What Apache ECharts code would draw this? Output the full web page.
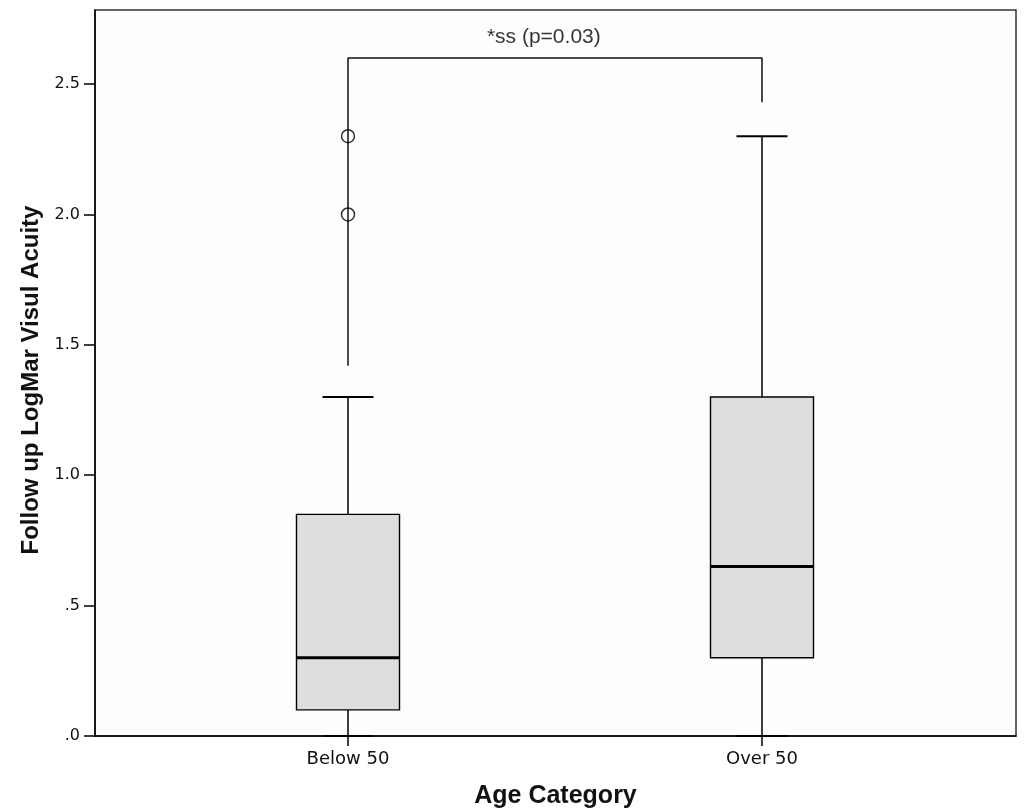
<!DOCTYPE html>
<html>
<head>
<meta charset="utf-8">
<script src="https://cdn.jsdelivr.net/npm/echarts@6/dist/echarts.min.js"></script>
<style>
html,body{margin:0;padding:0;background:#fff;}
#chart{width:1034px;height:811px;}
</style>
</head>
<body>
<div id="chart"></div>
<script>
// ---- data ----
const categories = ['Below 50', 'Over 50'];
const whiskerLow = [0, 0];
const q1 = [0.1, 0.3];
const median = [0.3, 0.65];
const q3 = [0.85, 1.3];
const whiskerHigh = [1.3, 2.3];
const outlierCategory = [0, 0];
const outlierValue = [2.3, 2.0];
const yTicks = [0, 0.5, 1.0, 1.5, 2.0, 2.5];
const yTickLabels = ['.0', '.5', '1.0', '1.5', '2.0', '2.5'];
// significance bracket: left foot, top, right foot (values on y axis)
const bracketLeftFoot = 1.42;
const bracketTop = 2.6;
const bracketRightFoot = 2.43;
const annotationText = '*ss (p=0.03)';
const annotationPos = [1.473, 2.68];

// ---- build ----
const boxData = categories.map((c, i) => [i + 1, whiskerLow[i], q1[i], median[i], q3[i], whiskerHigh[i]]);
const outlierData = outlierCategory.map((c, i) => [c + 1, outlierValue[i]]);
const bracketData = [[1, bracketLeftFoot], [1, bracketTop], [2, bracketTop], [2, bracketRightFoot]];

const BOX_HALF = 51.5;
const CAP_HALF = 25.5;

function renderBox(params, api) {
  const x = api.value(0);
  const lo = api.coord([x, api.value(1)]);
  const b1 = api.coord([x, api.value(2)]);
  const md = api.coord([x, api.value(3)]);
  const b3 = api.coord([x, api.value(4)]);
  const hi = api.coord([x, api.value(5)]);
  const cx = lo[0];
  const line = (x1, y1, x2, y2, w) => ({
    type: 'line',
    shape: {x1, y1, x2, y2},
    style: {stroke: '#000', lineWidth: w || 1.5}
  });
  return {
    type: 'group',
    children: [
      line(cx, b1[1], cx, lo[1]),
      line(cx, b3[1], cx, hi[1]),
      line(cx - CAP_HALF, hi[1], cx + CAP_HALF, hi[1], 2),
      line(cx - CAP_HALF, lo[1], cx + CAP_HALF, lo[1], 2),
      {
        type: 'rect',
        shape: {x: cx - BOX_HALF, y: b3[1], width: BOX_HALF * 2, height: b1[1] - b3[1]},
        style: {fill: '#dedede', stroke: '#000', lineWidth: 1.4}
      },
      line(cx - BOX_HALF, md[1], cx + BOX_HALF, md[1], 3)
    ]
  };
}

const chart = echarts.init(document.getElementById('chart'), null, {renderer: 'canvas'});
chart.setOption({
  animation: false,
  backgroundColor: '#ffffff',
  grid: {
    left: 95, right: 18, top: 10, bottom: 75,
    outerBoundsMode: 'none', containLabel: false,
    show: true, borderColor: '#333', borderWidth: 1.5, backgroundColor: '#fdfdfd'
  },
  xAxis: {
    type: 'value',
    min: 0.3889, max: 2.6135,
    splitLine: {show: false},
    axisLine: {show: true, onZero: false, lineStyle: {color: '#000', width: 1.5}},
    axisTick: {show: true, length: 10, customValues: [1, 2], lineStyle: {color: '#000', width: 1.5}},
    axisLabel: {
      customValues: [1, 2], margin: 14,
      formatter: v => categories[Math.round(v) - 1] || '',
      fontFamily: 'DejaVu Sans', fontSize: 18, color: '#111'
    },
    name: 'Age Category', nameLocation: 'middle', nameGap: 48,
    nameTextStyle: {fontFamily: 'Liberation Sans', fontWeight: 'bold', fontSize: 25, color: '#111'}
  },
  yAxis: {
    type: 'value',
    min: 0, max: 2.784,
    splitLine: {show: false},
    axisLine: {show: true, onZero: false, lineStyle: {color: '#000', width: 1.5}},
    axisTick: {show: true, length: 11, customValues: yTicks, lineStyle: {color: '#000', width: 1.5}},
    axisLabel: {
      customValues: yTicks, margin: 15,
      formatter: v => { const i = yTicks.findIndex(t => Math.abs(t - v) < 1e-6); return i >= 0 ? yTickLabels[i] : ''; },
      fontFamily: 'DejaVu Sans', fontSize: 16, color: '#111'
    },
    name: 'Follow up LogMar Visul Acuity', nameLocation: 'middle', nameGap: 50,
    nameTextStyle: {fontFamily: 'Liberation Sans', fontWeight: 'bold', fontSize: 24, color: '#111', padding: [0, 14, 0, 0]}
  },
  series: [
    {
      type: 'line',
      data: bracketData,
      symbol: 'none',
      lineStyle: {color: '#111', width: 1.5},
      z: 1
    },
    {
      type: 'custom',
      renderItem: renderBox,
      data: boxData,
      encode: {x: 0, y: [1, 2, 3, 4, 5]},
      z: 2
    },
    {
      type: 'scatter',
      data: outlierData,
      symbol: 'circle',
      symbolSize: 13,
      itemStyle: {color: 'rgba(0,0,0,0)', borderColor: '#000', borderWidth: 1.5},
      z: 3
    },
    {
      type: 'scatter',
      data: [annotationPos],
      symbolSize: 0,
      silent: true,
      label: {
        show: true, position: 'inside', formatter: annotationText,
        fontFamily: 'Liberation Sans', fontSize: 21, color: '#000'
      }
    }
  ]
});
</script>
</body>
</html>
